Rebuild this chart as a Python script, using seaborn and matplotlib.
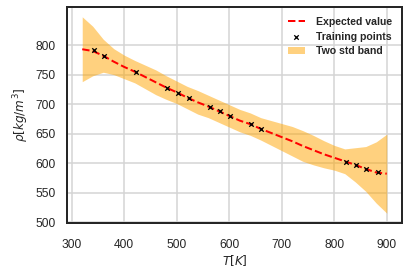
import numpy as np
import pandas as pd
import matplotlib
matplotlib.use("Agg")
import matplotlib.pyplot as plt
from matplotlib.font_manager import FontProperties
import seaborn as sns

# Training points
train_T = [342, 361, 423, 482, 503, 523, 563, 582, 602, 642, 661, 822, 842, 861, 883]
train_rho = [791.5, 782, 755, 728, 719, 710.5, 695, 687.5, 680, 665.5, 658, 602.5, 597, 590, 584]

# Predictive mean and two-std half width
grid_T = [320, 340, 360, 380, 400, 420, 440, 460, 480, 500, 520, 540, 560, 580, 600,
          620, 640, 660, 680, 700, 720, 740, 760, 780, 800, 820, 840, 860, 880, 900]
mean_rho = [793, 790, 782, 772, 763, 755, 746, 737, 728, 720, 711, 703, 696, 688, 680,
            672, 666, 658, 651, 644, 637, 629, 622, 615, 609, 603, 597, 590, 584, 582]
two_std = [55, 42, 28, 22, 20, 19, 20, 21, 20, 19, 19, 20, 19, 19, 19,
           19, 19, 19, 21, 23, 25, 26, 25, 23, 21, 21, 29, 38, 52, 67]

sns.set_theme(style="whitegrid")
plt.rcParams['font.family'] = ['Liberation Sans', 'DejaVu Sans']
plt.rcParams['mathtext.fontset'] = 'dejavusans'

df_pred = pd.DataFrame({"T": grid_T, "mean": mean_rho, "s2": two_std})
df_pred["lo"] = df_pred["mean"] - df_pred["s2"]
df_pred["hi"] = df_pred["mean"] + df_pred["s2"]
df_train = pd.DataFrame({"T": train_T, "rho": train_rho})

fig = plt.figure(figsize=(408/72, 278/72), dpi=72)
ax = fig.add_axes([67/408, 1 - 223/278, (402-67)/408, (223-7)/278])

sns.lineplot(data=df_pred, x="T", y="mean", ax=ax, color="red", linestyle="--",
             linewidth=2, label="Expected value")
sns.scatterplot(data=df_train, x="T", y="rho", ax=ax, marker="x", color="black",
                s=20, linewidth=1.3, label="Training points", zorder=3)
ax.fill_between(df_pred["T"], df_pred["lo"], df_pred["hi"], color="orange",
                alpha=0.5, linewidth=0, label="Two std band")

ax.set_xticks([300, 400, 500, 600, 700, 800, 900])
ax.set_yticks([500, 550, 600, 650, 700, 750, 800])
ax.tick_params(labelsize=12, length=0, labelcolor="#262626")
ax.tick_params(axis="x", pad=16)
ax.tick_params(axis="y", pad=11)
ax.set_xlabel("$T[K]$", fontsize=12, labelpad=2)
ax.set_ylabel(r"$\rho[kg/m^3]$", fontsize=12, labelpad=5)
ax.grid(True, color="#d4d4d4", linewidth=1.5)
for sp in ax.spines.values():
    sp.set_color("#262626")
    sp.set_linewidth(2)
    sp.set_visible(True)

legfont = FontProperties(family="Liberation Sans", weight="bold", size=10.5)
leg = ax.legend(loc="upper right", frameon=False, prop=legfont,
                handlelength=1.7, handletextpad=1.0, borderaxespad=0.55,
                labelspacing=0.45)

fig.savefig("out.png", dpi=72)
